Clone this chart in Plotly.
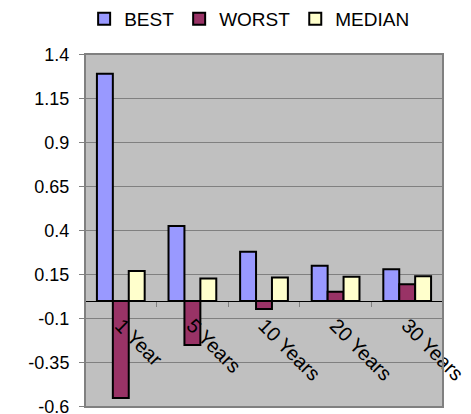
import plotly.graph_objects as go

categories = ["1 Year", "5 Years", "10 Years", "20 Years", "30 Years"]
best = [1.29, 0.425, 0.28, 0.20, 0.18]
worst = [-0.55, -0.25, -0.045, 0.053, 0.095]
median = [0.17, 0.127, 0.133, 0.137, 0.14]

y_ticks = [1.4, 1.15, 0.9, 0.65, 0.4, 0.15, -0.1, -0.35, -0.6]
y_tick_labels = ["1.4", "1.15", "0.9", "0.65", "0.4", "0.15", "-0.1", "-0.35", "-0.6"]
y_range = [-0.6015, 1.4015]

FONT = "Liberation Sans, Arial, sans-serif"

fig = go.Figure()
for name, vals, color in [("BEST", best, "#9999FF"),
                          ("WORST", worst, "#993366"),
                          ("MEDIAN", median, "#FFFFCC")]:
    fig.add_trace(go.Bar(
        x=categories, y=vals, name=name,
        marker=dict(color=color, line=dict(color="black", width=2)),
    ))

zero_pos = (0 - y_range[0]) / (y_range[1] - y_range[0])

fig.update_layout(
    width=471, height=414, autosize=False,
    margin=dict(l=85, r=28, t=54, b=7, autoexpand=False),
    paper_bgcolor="white",
    plot_bgcolor="#C0C0C0",
    barmode="group", bargap=0.333, bargroupgap=0,
    font=dict(family=FONT, size=18, color="black"),
    showlegend=True,
    legend=dict(
        orientation="h", xref="container", x=0.53, xanchor="center",
        yref="container", y=1.0, yanchor="top",
        font=dict(family=FONT, size=19, color="black"),
        itemwidth=30, tracegroupgap=0,
        bgcolor="rgba(0,0,0,0)",
    ),
    xaxis=dict(
        type="category",
        anchor="free", position=zero_pos,
        automargin=False,
        showline=True, linecolor="black", linewidth=1,
        ticks="outside", ticklen=5, tickcolor="#808080", tickwidth=1,
        tickson="boundaries",
        tickangle=45,
        ticklabelstandoff=4,
        tickfont=dict(family=FONT, size=20, color="black"),
        showgrid=False, zeroline=False,
        ticklabeloverflow="allow",
    ),
    yaxis=dict(
        anchor="free", position=0,
        automargin=False,
        range=y_range, tickvals=y_ticks, ticktext=y_tick_labels,
        showgrid=True, gridcolor="#808080", gridwidth=1,
        zeroline=False,
        showline=True, linecolor="#808080", linewidth=2,
        ticks="outside", ticklen=5, tickcolor="#808080",
        ticklabelstandoff=6,
        ticklabeloverflow="allow",
        tickfont=dict(family=FONT, size=18, color="black"),
    ),
    shapes=[dict(type="rect", xref="paper", yref="paper", x0=0, x1=1, y0=0, y1=1,
                 line=dict(color="#808080", width=2), layer="above")],
)

fig.write_html("out.html")
